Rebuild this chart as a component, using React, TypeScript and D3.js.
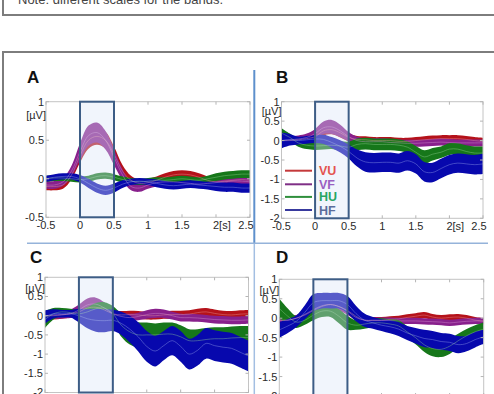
import * as d3 from 'd3';

// sample times (s) shared by every trace
const time = [-0.5, -0.375, -0.25, -0.125, 0, 0.125, 0.25, 0.375, 0.5, 0.625, 0.75, 0.875, 1, 1.125, 1.25, 1.375, 1.5, 1.625, 1.75, 1.875, 2, 2.125, 2.25, 2.375, 2.5];

const bandNames = ['VU', 'VF', 'HU', 'HF'];
const bandFill = ['#b5121a', '#88208c', '#16771a', '#0708ad'];
const bandMid = ['#ee9a9a', '#d99ad8', '#96d496', '#9ca8ee'];
const legendLine = ['#c4393b', '#7f2f86', '#2f8f3c', '#383a9e'];
const legendLabel = ['#e4534f', '#9a5ec2', '#28a563', '#5b6d9b'];

const xTicks = [-0.5, 0, 0.5, 1, 1.5, 2, 2.5];
const xTickLabels = ['-0.5', '0', '0.5', '1', '1.5', '2[s]', '2.5'];
const yTicksA = [1, 0.5, 0, -0.5];
const yTicksWide = [1, 0.5, 0, -0.5, -1, -1.5, -2];
const stimWindow = [0, 0.5];

// A: mean and half-width (µV)
const aVU = [-0.1, -0.1, -0.08, 0.05, 0.3, 0.5, 0.55, 0.5, 0.32, 0.1, -0.02, -0.06, -0.05, -0.02, 0.02, 0.05, 0.06, 0.05, 0.02, -0.02, -0.04, -0.03, -0.02, -0.01, -0.02];
const aVUsem = [0.05, 0.05, 0.05, 0.06, 0.09, 0.11, 0.11, 0.11, 0.1, 0.08, 0.06, 0.05, 0.05, 0.05, 0.05, 0.05, 0.05, 0.05, 0.05, 0.05, 0.05, 0.05, 0.05, 0.05, 0.05];
const aVF = [-0.08, -0.08, -0.04, 0.1, 0.35, 0.56, 0.6, 0.5, 0.28, 0.05, -0.1, -0.12, -0.08, -0.05, -0.04, -0.04, -0.05, -0.06, -0.07, -0.06, -0.05, -0.04, -0.03, -0.03, -0.04];
const aVFsem = [0.05, 0.05, 0.05, 0.07, 0.11, 0.13, 0.13, 0.12, 0.1, 0.07, 0.05, 0.05, 0.05, 0.05, 0.05, 0.05, 0.05, 0.05, 0.05, 0.05, 0.05, 0.05, 0.05, 0.05, 0.05];
const aHU = [0, 0.01, 0.01, 0, -0.01, 0, 0.03, 0.04, 0.02, -0.01, -0.03, -0.04, -0.03, -0.02, -0.02, -0.01, 0, -0.01, -0.02, 0, 0.02, 0.04, 0.05, 0.06, 0.06];
const aHUsem = [0.04, 0.04, 0.04, 0.04, 0.04, 0.04, 0.04, 0.04, 0.04, 0.04, 0.04, 0.04, 0.04, 0.04, 0.04, 0.04, 0.04, 0.04, 0.04, 0.04, 0.05, 0.05, 0.05, 0.05, 0.05];
const aHF = [0, 0.02, 0.03, 0.03, 0, -0.06, -0.12, -0.15, -0.12, -0.07, -0.04, -0.03, -0.04, -0.06, -0.08, -0.09, -0.08, -0.07, -0.08, -0.09, -0.1, -0.11, -0.11, -0.12, -0.12];
const aHFsem = [0.04, 0.04, 0.04, 0.04, 0.05, 0.06, 0.06, 0.06, 0.06, 0.05, 0.04, 0.04, 0.04, 0.05, 0.05, 0.05, 0.05, 0.05, 0.05, 0.05, 0.06, 0.06, 0.06, 0.06, 0.06];

// B
const bVU = [0, 0, 0.02, 0.05, 0.1, 0.25, 0.28, 0.2, 0.08, 0.03, 0.02, 0, 0, 0, -0.02, -0.02, 0, 0.02, 0.04, 0.05, 0.05, 0.05, 0.03, 0, -0.02];
const bVUsem = [0.09, 0.09, 0.09, 0.09, 0.1, 0.12, 0.12, 0.12, 0.1, 0.09, 0.09, 0.09, 0.09, 0.09, 0.09, 0.09, 0.09, 0.09, 0.09, 0.09, 0.09, 0.09, 0.09, 0.09, 0.09];
const bVF = [0, 0.02, 0.04, 0.08, 0.18, 0.33, 0.35, 0.25, 0.1, 0, -0.03, -0.03, -0.03, -0.05, -0.06, -0.07, -0.07, -0.06, -0.05, -0.04, -0.05, -0.06, -0.06, -0.06, -0.06];
const bVFsem = [0.09, 0.09, 0.09, 0.1, 0.12, 0.16, 0.18, 0.16, 0.12, 0.1, 0.09, 0.09, 0.09, 0.09, 0.09, 0.09, 0.09, 0.09, 0.09, 0.09, 0.09, 0.09, 0.09, 0.09, 0.09];
const bHU = [0.19, 0.08, -0.06, -0.12, -0.14, -0.13, -0.12, -0.14, -0.17, -0.1, -0.08, -0.1, -0.1, -0.1, -0.12, -0.17, -0.3, -0.42, -0.35, -0.3, -0.22, -0.22, -0.28, -0.32, -0.32];
const bHUsem = [0.13, 0.1, 0.1, 0.1, 0.1, 0.1, 0.1, 0.12, 0.14, 0.15, 0.15, 0.15, 0.15, 0.15, 0.15, 0.15, 0.16, 0.17, 0.16, 0.15, 0.15, 0.15, 0.16, 0.17, 0.17];
const bHF = [0, 0.02, 0, 0.02, 0.04, 0.03, -0.05, -0.15, -0.28, -0.45, -0.55, -0.57, -0.56, -0.56, -0.58, -0.52, -0.6, -0.8, -0.82, -0.72, -0.62, -0.58, -0.6, -0.62, -0.6];
const bHFsem = [0.2, 0.15, 0.1, 0.1, 0.1, 0.12, 0.14, 0.16, 0.18, 0.22, 0.25, 0.25, 0.25, 0.25, 0.25, 0.25, 0.25, 0.25, 0.25, 0.25, 0.25, 0.25, 0.25, 0.25, 0.26];

// C
const cVU = [0, 0, 0.02, 0.05, 0.1, 0.2, 0.22, 0.15, 0.05, 0.02, 0.03, 0.02, 0, 0, 0.02, 0.03, 0.03, 0.04, 0.08, 0.1, 0.06, 0.03, 0.02, 0.04, 0.05];
const cVUsem = [0.1, 0.1, 0.1, 0.1, 0.1, 0.12, 0.12, 0.12, 0.1, 0.1, 0.1, 0.1, 0.1, 0.1, 0.1, 0.1, 0.1, 0.1, 0.1, 0.1, 0.1, 0.1, 0.1, 0.1, 0.1];
const cVF = [0, 0.02, 0.03, 0.05, 0.15, 0.28, 0.3, 0.2, 0.05, -0.02, -0.05, -0.02, 0.03, 0.06, 0.05, 0, -0.05, -0.05, -0.06, -0.08, -0.1, -0.11, -0.12, -0.12, -0.11];
const cVFsem = [0.1, 0.1, 0.1, 0.11, 0.14, 0.17, 0.17, 0.15, 0.12, 0.1, 0.1, 0.1, 0.11, 0.12, 0.11, 0.1, 0.1, 0.1, 0.1, 0.1, 0.1, 0.1, 0.1, 0.1, 0.1];
const cHU = [-0.1, 0.05, 0.1, 0.08, 0.05, 0.1, 0.18, 0.2, 0.05, -0.25, -0.42, -0.5, -0.5, -0.5, -0.48, -0.48, -0.55, -0.65, -0.65, -0.62, -0.6, -0.6, -0.58, -0.57, -0.57];
const cHUsem = [0.22, 0.15, 0.1, 0.1, 0.1, 0.12, 0.15, 0.15, 0.2, 0.3, 0.33, 0.33, 0.32, 0.3, 0.3, 0.3, 0.3, 0.3, 0.3, 0.3, 0.3, 0.3, 0.3, 0.3, 0.3];
const cHF = [-0.03, 0.05, 0.05, 0.05, 0, -0.08, -0.12, -0.13, -0.12, -0.2, -0.35, -0.55, -0.8, -0.92, -0.78, -0.65, -0.8, -1.0, -0.9, -0.72, -0.78, -0.82, -0.85, -0.95, -1.05];
const cHFsem = [0.17, 0.12, 0.1, 0.1, 0.18, 0.25, 0.3, 0.3, 0.28, 0.3, 0.35, 0.38, 0.4, 0.4, 0.38, 0.38, 0.4, 0.4, 0.4, 0.4, 0.4, 0.4, 0.4, 0.4, 0.4];

// D
const dVU = [-0.05, -0.05, 0, 0.08, 0.2, 0.3, 0.35, 0.3, 0.2, 0.05, -0.05, -0.05, -0.05, -0.03, -0.02, 0.02, 0.05, 0.08, 0.03, 0, 0.02, 0.03, 0, -0.05, -0.08];
const dVUsem = [0.08, 0.08, 0.08, 0.08, 0.08, 0.08, 0.08, 0.08, 0.08, 0.08, 0.08, 0.08, 0.08, 0.08, 0.08, 0.08, 0.08, 0.08, 0.08, 0.08, 0.08, 0.08, 0.08, 0.08, 0.08];
const dVF = [-0.05, -0.05, 0, 0.1, 0.22, 0.32, 0.35, 0.3, 0.18, 0.02, -0.05, -0.06, -0.06, -0.06, -0.07, -0.07, -0.07, -0.08, -0.09, -0.1, -0.12, -0.1, -0.08, -0.07, -0.07];
const dVFsem = [0.08, 0.08, 0.08, 0.08, 0.09, 0.1, 0.1, 0.1, 0.09, 0.08, 0.08, 0.08, 0.08, 0.08, 0.08, 0.08, 0.08, 0.08, 0.08, 0.08, 0.08, 0.08, 0.08, 0.08, 0.08];
const dHU = [0.25, 0.05, -0.1, -0.05, 0.08, 0.18, 0.18, 0.05, -0.12, -0.18, -0.15, -0.12, -0.12, -0.15, -0.2, -0.35, -0.5, -0.68, -0.78, -0.8, -0.72, -0.58, -0.45, -0.35, -0.28];
const dHUsem = [0.25, 0.2, 0.15, 0.12, 0.13, 0.15, 0.15, 0.18, 0.18, 0.12, 0.12, 0.12, 0.12, 0.12, 0.15, 0.15, 0.17, 0.18, 0.2, 0.2, 0.2, 0.18, 0.17, 0.17, 0.17];
const dHF = [-0.3, -0.2, -0.08, 0.15, 0.4, 0.45, 0.45, 0.45, 0.35, 0.12, -0.05, -0.12, -0.18, -0.22, -0.28, -0.38, -0.45, -0.52, -0.55, -0.6, -0.62, -0.68, -0.65, -0.55, -0.48];
const dHFsem = [0.2, 0.18, 0.15, 0.18, 0.22, 0.2, 0.2, 0.2, 0.22, 0.2, 0.17, 0.15, 0.15, 0.17, 0.18, 0.18, 0.2, 0.22, 0.22, 0.22, 0.22, 0.22, 0.2, 0.2, 0.18];

const FONT = '"Liberation Sans", Arial, sans-serif';

const panels = [
  { id: 'A', left: 46, right: 250, top: 101.7, bottom: 217.3, yDomain: [-0.5, 1], yTicks: yTicksA, unitDy: 17, letterX: 27, letterY: 83, means: [aVU, aVF, aHU, aHF], sems: [aVUsem, aVFsem, aHUsem, aHFsem], legend: false },
  { id: 'B', left: 281.5, right: 483, top: 101.7, bottom: 218.3, yDomain: [-2, 1], yTicks: yTicksWide, unitDy: 13, letterX: 276, letterY: 83, means: [bVU, bVF, bHU, bHF], sems: [bVUsem, bVFsem, bHUsem, bHFsem], legend: true },
  { id: 'C', left: 45, right: 248.5, top: 277.3, bottom: 392.5, yDomain: [-2, 1], yTicks: yTicksWide, unitDy: 15, letterX: 30, letterY: 263, means: [cVU, cVF, cHU, cHF], sems: [cVUsem, cVFsem, cHUsem, cHFsem], legend: false },
  { id: 'D', left: 279.3, right: 483.7, top: 279.3, bottom: 396, yDomain: [-2, 1], yTicks: yTicksWide, unitDy: 15, letterX: 276, letterY: 263, means: [dVU, dVF, dHU, dHF], sems: [dVUsem, dVFsem, dHUsem, dHFsem], legend: false },
];

type PanelSpec = (typeof panels)[number];

function Panel({ p }: { p: PanelSpec }) {
  const x = d3.scaleLinear().domain([-0.5, 2.5]).range([p.left, p.right]);
  const y = d3.scaleLinear().domain(p.yDomain).range([p.bottom, p.top]);
  const clipId = `clip-${p.id}`;

  const band = (m: number[], s: number[]) =>
    d3.area<number>()
      .x((_, i) => x(time[i]))
      .y0((_, i) => y(m[i] - s[i]))
      .y1((_, i) => y(m[i] + s[i]))
      .curve(d3.curveCatmullRom)(m) || '';
  const mid = (m: number[]) =>
    d3.line<number>()
      .x((_, i) => x(time[i]))
      .y((v) => y(v))
      .curve(d3.curveCatmullRom)(m) || '';

  const w0 = x(stimWindow[0]);
  const w1 = x(stimWindow[1]);
  const tick = 3;

  return (
    <g>
      <defs>
        <clipPath id={clipId}>
          <rect x={p.left} y={p.top} width={p.right - p.left} height={p.bottom - p.top} />
        </clipPath>
      </defs>
      <text x={p.letterX} y={p.letterY} fontFamily={FONT} fontWeight="bold" fontSize={17} fill="#111">{p.id}</text>

      <g clipPath={`url(#${clipId})`}>
        {p.means.map((m, k) => (
          <path key={`b${k}`} d={band(m, p.sems[k])} fill={bandFill[k]} />
        ))}
        {p.means.map((m, k) => (
          <path key={`m${k}`} d={mid(m)} fill="none" stroke={bandMid[k]} strokeWidth={0.8} opacity={0.5} />
        ))}
        <rect x={w0} y={p.top} width={w1 - w0} height={p.bottom - p.top} fill="#d9e4f6" opacity={0.38} />
      </g>

      {/* axes box with inward ticks on all sides */}
      <rect x={p.left} y={p.top} width={p.right - p.left} height={p.bottom - p.top} fill="none" stroke="#c4c4c4" strokeWidth={1} />
      {xTicks.map((t) => (
        <g key={`xt${t}`} stroke="#b5b5b5" strokeWidth={1}>
          <line x1={x(t)} x2={x(t)} y1={p.bottom} y2={p.bottom - tick} />
          <line x1={x(t)} x2={x(t)} y1={p.top} y2={p.top + tick} />
        </g>
      ))}
      {p.yTicks.map((v) => (
        <g key={`yt${v}`} stroke="#b5b5b5" strokeWidth={1}>
          <line x1={p.left} x2={p.left + tick} y1={y(v)} y2={y(v)} />
          <line x1={p.right} x2={p.right - tick} y1={y(v)} y2={y(v)} />
        </g>
      ))}

      <rect x={w0} y={p.top} width={w1 - w0} height={p.bottom - p.top} fill="none" stroke="#3d5d86" strokeWidth={2} />

      <g fontFamily={FONT} fontSize={11} fill="#2a2a2a">
        {p.yTicks.map((v) => (
          <text key={`yl${v}`} x={p.left - 2} y={y(v)} dy="0.36em" textAnchor="end">{String(v)}</text>
        ))}
        <text x={p.left} y={p.top + p.unitDy} textAnchor="end">[µV]</text>
        {xTicks.map((t, i) => {
          if (xTickLabels[i] === '2[s]') {
            return <text key={`xl${t}`} x={x(t) - 3} y={p.bottom + 12} textAnchor="start">{xTickLabels[i]}</text>;
          }
          const dx = t === 2.5 ? -4 : 0;
          return <text key={`xl${t}`} x={x(t) + dx} y={p.bottom + 12} textAnchor="middle">{xTickLabels[i]}</text>;
        })}
      </g>

      {p.legend && (
        <g>
          {bandNames.map((name, k) => {
            const ly = [170.7, 184.3, 196.9, 210][k];
            return (
              <g key={name}>
                <line x1={285} x2={312} y1={ly} y2={ly} stroke={legendLine[k]} strokeWidth={2} />
                <text x={319} y={ly + 4.5} fontFamily={FONT} fontWeight="bold" fontSize={12.5} fill={legendLabel[k]}>{name}</text>
              </g>
            );
          })}
        </g>
      )}
    </g>
  );
}

export default function App() {
  return (
    <svg
      width={494}
      height={394}
      style={{ position: 'absolute', left: 0, top: 0, display: 'block', background: '#fff' }}
    >
      {/* caption box above the figure */}
      <path d="M3,-5 V15 H500" fill="none" stroke="#7d7d7d" strokeWidth={2} />
      <text x={18} y={4} fontFamily={FONT} fontSize={13} fill="#444">Note: different scales for the bands.</text>

      {/* figure box */}
      <path d="M500,52 H3 V400" fill="none" stroke="#7d7d7d" strokeWidth={2} />

      {/* panel dividers */}
      <line x1={254.3} x2={254.3} y1={70} y2={243.3} stroke="#5e90cc" strokeWidth={2} />
      <line x1={254.3} x2={254.3} y1={243.3} y2={394} stroke="#a3bfe2" strokeWidth={1.5} />
      <line x1={27} x2={488} y1={243.3} y2={243.3} stroke="#95b3da" strokeWidth={1.5} />

      {panels.map((p) => (
        <Panel key={p.id} p={p} />
      ))}
    </svg>
  );
}
